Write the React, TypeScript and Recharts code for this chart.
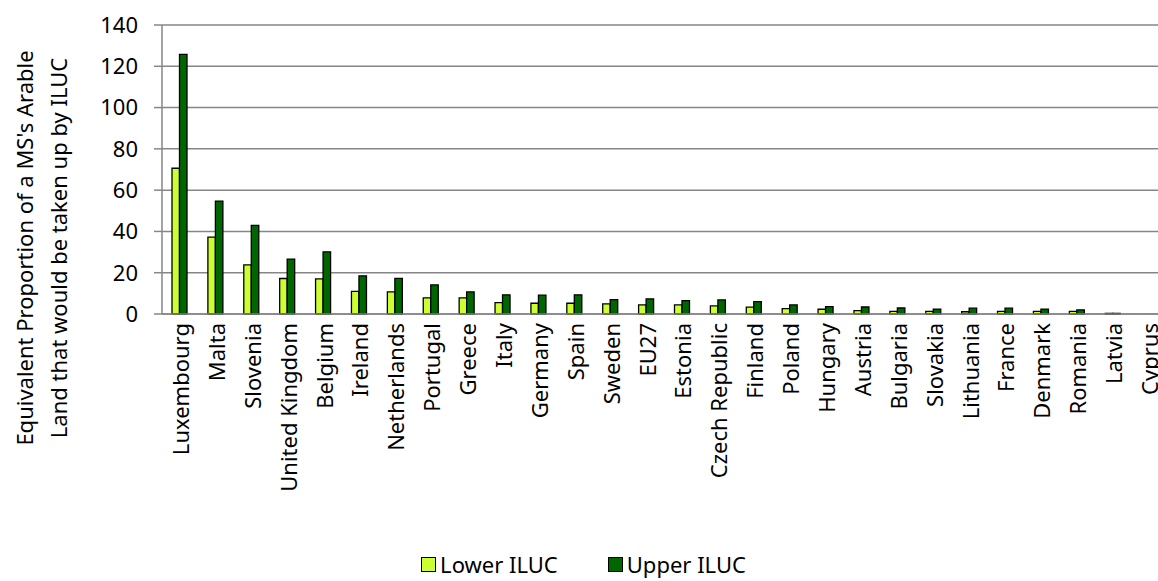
import React from 'react';
import { BarChart, Bar, XAxis, YAxis, CartesianGrid, Legend } from 'recharts';

const countries = [
  'Luxembourg', 'Malta', 'Slovenia', 'United Kingdom', 'Belgium', 'Ireland', 'Netherlands',
  'Portugal', 'Greece', 'Italy', 'Germany', 'Spain', 'Sweden', 'EU27', 'Estonia',
  'Czech Republic', 'Finland', 'Poland', 'Hungary', 'Austria', 'Bulgaria', 'Slovakia',
  'Lithuania', 'France', 'Denmark', 'Romania', 'Latvia', 'Cyprus',
];

const lowerIluc = [
  70.6, 37.2, 23.8, 17.2, 17.0, 11.0, 10.7, 7.8, 7.8, 5.5, 5.2, 5.2, 4.9, 4.4, 4.4,
  3.9, 3.3, 2.6, 2.3, 1.6, 1.3, 1.3, 1.1, 1.3, 1.3, 1.3, 0.3, 0,
];

const upperIluc = [
  125.8, 54.7, 42.9, 26.6, 30.1, 18.5, 17.3, 14.1, 10.7, 9.3, 9.1, 9.3, 7.0, 7.3, 6.5,
  6.8, 6.0, 4.4, 3.6, 3.4, 2.9, 2.4, 2.8, 2.8, 2.4, 2.0, 0.3, 0,
];

const yTicks = [0, 20, 40, 60, 80, 100, 120, 140];

const FONT = '"Noto Sans", sans-serif';
const LOWER_COLOR = '#CCFF33';
const UPPER_COLOR = '#006600';
const GRID = '#868686';

// plot runs a little past the right edge of the picture, Cyprus gets clipped like in the original
const CHART_W = 1167;

const data = countries.map((name, i) => ({ name, lower: lowerIluc[i], upper: upperIluc[i] }));

const CountryTick = (props: any) => {
  const { x, payload } = props;
  const y = 323;
  return (
    <text
      x={x}
      y={y}
      transform={`rotate(-90 ${x} ${y})`}
      textAnchor="end"
      dominantBaseline="central"
      fontFamily={FONT}
      fontSize={22}
      fill="#000"
    >
      {payload.value}
    </text>
  );
};

const LegendBox = () => (
  <div
    style={{
      boxSizing: 'border-box',
      height: 44,
      paddingTop: 10,
      display: 'flex',
      justifyContent: 'center',
      alignItems: 'center',
      fontFamily: FONT,
      fontSize: 22,
      color: '#000',
    }}
  >
    {[
      { label: 'Lower ILUC', color: LOWER_COLOR },
      { label: 'Upper ILUC', color: UPPER_COLOR },
    ].map((item, i) => (
      <span key={item.label} style={{ display: 'flex', alignItems: 'center', marginLeft: i ? 50 : 0 }}>
        <span
          style={{
            display: 'inline-block',
            width: 13,
            height: 13,
            background: item.color,
            border: '1.5px solid #000',
            marginRight: 4,
          }}
        />
        {item.label}
      </span>
    ))}
  </div>
);

export default function App() {
  return (
    <div style={{ position: 'absolute', left: 0, top: 0, width: 1158, height: 581, overflow: 'hidden', background: '#fff' }}>
      <BarChart
        width={CHART_W}
        height={581}
        data={data}
        margin={{ top: 25, right: 0, bottom: 0, left: 0 }}
        barGap={0}
      >
        <CartesianGrid vertical={false} stroke={GRID} strokeWidth={1.5} />
        <XAxis
          dataKey="name"
          interval={0}
          height={223}
          tickLine={false}
          axisLine={{ stroke: GRID, strokeWidth: 1.5 }}
          tick={<CountryTick />}
        />
        <YAxis
          width={162}
          domain={[0, 140]}
          ticks={yTicks}
          interval={0}
          tickSize={8}
          tickMargin={16}
          tickLine={{ stroke: GRID, strokeWidth: 1.5 }}
          axisLine={{ stroke: GRID, strokeWidth: 1.5 }}
          tick={{ fontFamily: FONT, fontSize: 22, fill: '#000' }}
        />
        <Legend verticalAlign="bottom" align="center" content={<LegendBox />} />
        <Bar dataKey="lower" name="Lower ILUC" fill={LOWER_COLOR} stroke="#000" strokeWidth={1.3} barSize={7.5} isAnimationActive={false} />
        <Bar dataKey="upper" name="Upper ILUC" fill={UPPER_COLOR} stroke="#000" strokeWidth={1.3} barSize={7.5} isAnimationActive={false} />
        <text transform="rotate(-90 33 248)" x={33} y={248} textAnchor="middle" fontFamily={FONT} fontSize={22} fill="#000">
          Equivalent Proportion of  a MS's Arable
        </text>
        <text transform="rotate(-90 67 248)" x={67} y={248} textAnchor="middle" fontFamily={FONT} fontSize={22} fill="#000">
          Land that would be taken up by ILUC
        </text>
      </BarChart>
    </div>
  );
}
